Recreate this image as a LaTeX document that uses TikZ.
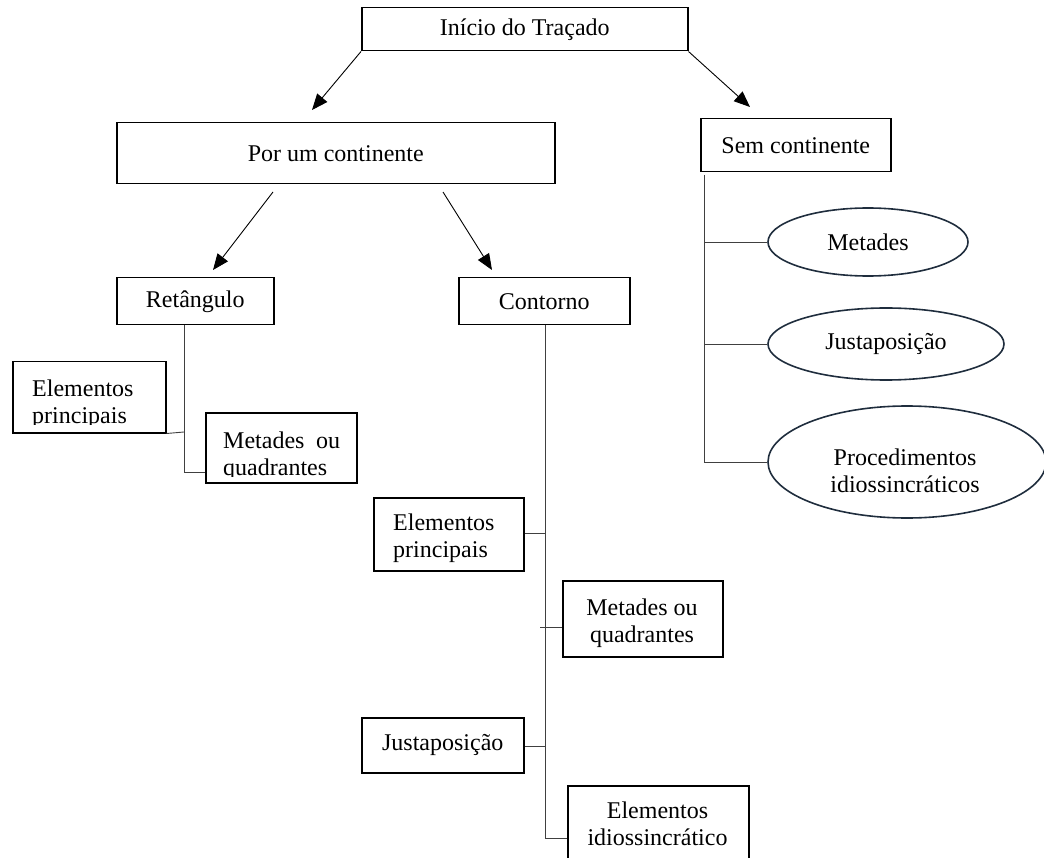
\documentclass[tikz,border=0pt]{standalone}
\usepackage{fontspec}
\setmainfont{Liberation Serif}
\usetikzlibrary{shapes.geometric,arrows.meta,calc}
\definecolor{ellcol}{HTML}{1F2D3D}
\definecolor{lincol}{HTML}{404040}
\begin{document}
\begin{tikzpicture}[x=1pt,y=-1pt,
  every node/.style={font=\fontsize{24}{27}\selectfont},
  box/.style={draw=black, line width=1.5pt, rectangle, inner sep=0pt, anchor=north west},
  ell/.style={draw=ellcol, line width=1.6pt, ellipse, inner sep=0pt},
  blk/.style={inner sep=0pt, align=center, anchor=north},
  blkl/.style={inner sep=0pt, align=left, anchor=north west},
  conn/.style={draw=lincol, line width=0.9pt},
  arr/.style={draw=black, line width=0.9pt, -{Triangle[length=16pt,width=13pt]}},
]
\useasboundingbox (0,0) rectangle (1044,858);
\clip (0,0) rectangle (1044,858);

% top level
\node[box, minimum width=326pt, minimum height=43pt] (inicio) at (361,7) {Início do Traçado};
\node[box, minimum width=438pt, minimum height=61pt] (porum) at (116,122) {Por um continente};
\node[box, minimum width=190pt, minimum height=53pt] (sem) at (700,118) {Sem continente};
\node[box, minimum width=157pt, minimum height=47pt] (ret) at (116,277) {Retângulo};
\node[box, minimum width=171pt, minimum height=47pt] (cont) at (458,277) {Contorno};

% left (Retangulo) branch, text clipped by the boxes
\node[box, minimum width=153pt, minimum height=71pt] (elemL) at (12,361) {};
\begin{scope}
  \clip (12,361) rectangle (165,424);
  \node[blkl] (elemLt) at (32,379.6) {Elementos\\principais};
\end{scope}
\node[box, minimum width=151pt, minimum height=70pt] (metL) at (205,412) {};
\begin{scope}
  \clip (205,412) rectangle (356,476);
  \node[blkl] (metLt) at (223,431.6) {\makebox[117pt][s]{Metades ou}\\quadrantes};
\end{scope}

% middle (Contorno) branch
\node[box, minimum width=150pt, minimum height=73pt] (elemM) at (373,497) {};
\node[blkl] (elemMt) at (393,513.6) {Elementos\\principais};
\node[box, minimum width=160pt, minimum height=76pt] (metM) at (562,580) {};
\node[blk] (metMt) at (642,598.6) {Metades ou\\quadrantes};
\node[box, minimum width=162pt, minimum height=55pt] (jusM) at (361,717) {Justaposição};
\node[box, minimum width=181pt, minimum height=110pt] (idio) at (567,785) {};
\node[blk] (idiot) at (657.5,801.6) {Elementos\\idiossincrático};

% right (Sem continente) branch
\node[ell, minimum width=200pt, minimum height=68pt] (met) at (868,242) {Metades};
\node[ell, minimum width=236pt, minimum height=72pt] (jus) at (886,344) {Justaposição};
\node[ell, minimum width=278pt, minimum height=112pt] (proc) at (907,462) {};
\node[blk] (proct) at (905,448.6) {Procedimentos\\idiossincráticos};

% arrows
\coordinate (a1) at (312,110);
\coordinate (a2) at (750,107);
\coordinate (a3s) at (273,192);
\coordinate (a3e) at (213,270);
\coordinate (a4s) at (443,192);
\coordinate (a4e) at (492,270);
\draw[arr] (inicio.south west) -- (a1);
\draw[arr] (inicio.south east) -- (a2);
\draw[arr] (a3s) -- (a3e);
\draw[arr] (a4s) -- (a4e);

% Retangulo connectors
\coordinate (rj1) at (184,432);
\coordinate (rj2) at (184,472);
\draw[conn] (ret.south -| rj2) -- (rj2) -- (metL.west |- rj2);
\draw[conn] (elemL.south east) -- (rj1);

% Contorno connectors
\coordinate (cbot) at (545,838);
\coordinate (cj1) at (545,533);
\coordinate (cj2) at (540,627);
\coordinate (cj3) at (545,746);
\draw[conn] (cont.south -| cbot) -- (cbot) -- (idio.west |- cbot);
\draw[conn] (elemM.east |- cj1) -- (cj1);
\draw[conn] (cj2) -- (metM.west |- cj2);
\draw[conn] (jusM.east |- cj3) -- (cj3);

% Sem continente connectors
\coordinate (stop) at (704,175);
\coordinate (sbot) at (704,462);
\draw[conn] (stop) -- (sbot) -- (proc.west);
\draw[conn] (met.west -| stop) -- (met.west);
\draw[conn] (jus.west -| stop) -- (jus.west);
\end{tikzpicture}
\end{document}
